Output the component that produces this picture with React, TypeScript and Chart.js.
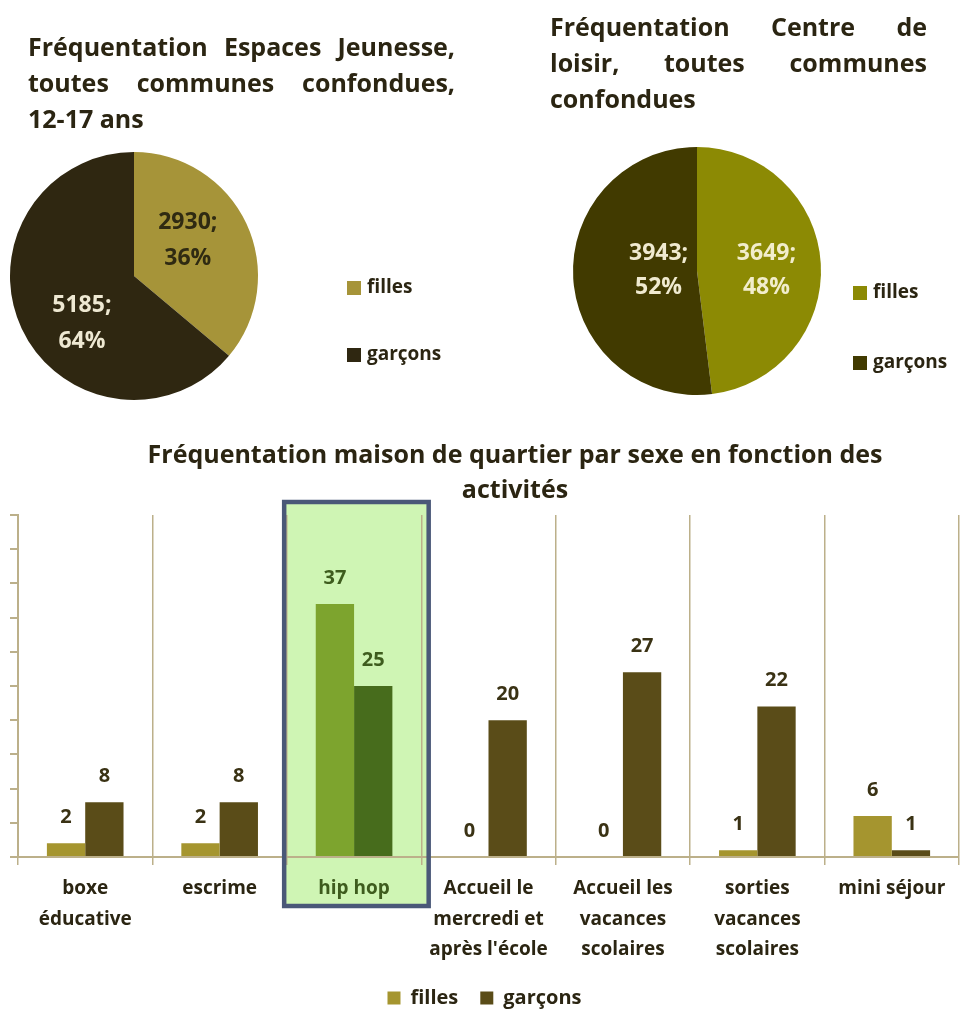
import React, { useEffect, useRef } from "react";
import { Chart, registerables } from "chart.js";

Chart.register(...registerables);

// ---------- data ----------
const pie1Title = ["Fréquentation Espaces Jeunesse,", "toutes communes confondues,", "12-17 ans"];
const pie1Labels = ["filles", "garçons"];
const pie1Values = [2930, 5185];

const pie2Title = ["Fréquentation Centre de", "loisir, toutes communes", "confondues"];
const pie2Labels = ["filles", "garçons"];
const pie2Values = [3649, 3943];

const barTitle = ["Fréquentation maison de quartier par sexe en fonction des", "activités"];
const barCategories = [
  ["boxe", "éducative"],
  ["escrime"],
  ["hip hop"],
  ["Accueil le", "mercredi et", "après l'école"],
  ["Accueil les", "vacances", "scolaires"],
  ["sorties", "vacances", "scolaires"],
  ["mini séjour"],
];
const barSeries = ["filles", "garçons"];
const fillesValues = [2, 2, 37, 0, 0, 1, 6];
const garconsValues = [8, 8, 25, 20, 27, 22, 1];
const highlightedCategory = 2;
const yMin = 0;
const yMax = 50;
const yStep = 5;

// ---------- styles ----------
const FAMILY = "'Open Sans', Lato, 'DejaVu Sans', sans-serif";
const TEXT_DARK = "#2B2512";
const PIE1_COLORS = ["#A69439", "#2F2711"];
const PIE2_COLORS = ["#8C8A04", "#413A00"];
const PIE1_LABEL_COLORS = ["#2F2A12", "#EEE8D2"];
const PIE2_LABEL_COLORS = ["#F2EDCC", "#F0EAD0"];
const BAR_F = "#A5952F";
const BAR_G = "#5A4C18";
const HL_F = "#7DA42E";
const HL_G = "#476C1C";
const HL_FILL = "#CFF5B4";
const HL_STROKE = "#4A5878";
const HL_TEXT = "#3E5C1E";
const TAN = "#BCB08A";
const VALUE_COLOR = "#3A3214";
const LEGEND_PAD = 22;

// ---------- plugins ----------
function textBlock(id: string, cfg: any) {
  return {
    id,
    afterDraw(chart: any) {
      const ctx = chart.ctx;
      ctx.save();
      ctx.font = cfg.font;
      ctx.fillStyle = cfg.color;
      ctx.textBaseline = "alphabetic";
      cfg.lines.forEach((line: string, i: number) => {
        const y = cfg.y + i * cfg.lineHeight;
        if (cfg.align === "center") {
          ctx.textAlign = "center";
          ctx.fillText(line, cfg.x, y);
          return;
        }
        ctx.textAlign = "left";
        const words = line.split(" ");
        const last = i === cfg.lines.length - 1;
        if (!cfg.justify || last || words.length < 2) {
          ctx.fillText(line, cfg.x, y);
          return;
        }
        const widths = words.map((w) => ctx.measureText(w).width);
        const gap = (cfg.width - widths.reduce((a, b) => a + b, 0)) / (words.length - 1);
        let x = cfg.x;
        words.forEach((w, k) => {
          ctx.fillText(w, x, y);
          x += widths[k] + gap;
        });
      });
      ctx.restore();
    },
  };
}

function sideLegend(id: string, cfg: any) {
  return {
    id,
    afterDraw(chart: any) {
      const ctx = chart.ctx;
      const labels = chart.data.labels as string[];
      const colors = chart.data.datasets[0].backgroundColor as string[];
      ctx.save();
      ctx.font = cfg.font;
      ctx.textBaseline = "middle";
      ctx.textAlign = "left";
      labels.forEach((lab, i) => {
        const cy = cfg.ys[i];
        ctx.fillStyle = colors[i];
        ctx.fillRect(cfg.x, cy - cfg.box / 2, cfg.box, cfg.box);
        ctx.fillStyle = cfg.color;
        ctx.fillText(lab, cfg.x + cfg.box + cfg.gap, cy);
      });
      ctx.restore();
    },
  };
}

function pieValueLabels(id: string, cfg: any) {
  return {
    id,
    afterDatasetsDraw(chart: any) {
      const meta = chart.getDatasetMeta(0);
      const data = chart.data.datasets[0].data as number[];
      const total = data.reduce((a, b) => a + b, 0);
      const ctx = chart.ctx;
      ctx.save();
      ctx.font = cfg.font;
      ctx.textAlign = "center";
      ctx.textBaseline = "middle";
      meta.data.forEach((arc: any, i: number) => {
        const p = arc.getProps(["x", "y", "startAngle", "endAngle", "outerRadius"], true);
        const mid = (p.startAngle + p.endAngle) / 2 + (cfg.place[i].da * Math.PI) / 180;
        const r = p.outerRadius * cfg.place[i].r;
        const cx = p.x + Math.cos(mid) * r;
        const cy = p.y + Math.sin(mid) * r;
        ctx.fillStyle = cfg.colors[i];
        ctx.fillText(`${data[i]};`, cx, cy - cfg.lineHeight / 2);
        ctx.fillText(`${Math.round((data[i] / total) * 100)}%`, cx, cy + cfg.lineHeight / 2);
      });
      ctx.restore();
    },
  };
}

function highlightRect(chart: any) {
  const xs = chart.scales.x;
  const ca = chart.chartArea;
  const cw = xs.width / barCategories.length;
  const c = xs.getPixelForValue(highlightedCategory);
  return { l: c - 0.52 * cw, r: c + 0.555 * cw, t: ca.top - 13, b: ca.bottom + 49 };
}

const highlightPlugin = {
  id: "highlightBox",
  beforeDraw(chart: any) {
    const ctx = chart.ctx;
    const h = highlightRect(chart);
    ctx.save();
    ctx.fillStyle = HL_FILL;
    ctx.fillRect(h.l, h.t, h.r - h.l, h.b - h.t);
    ctx.restore();
  },
  afterDraw(chart: any) {
    const ctx = chart.ctx;
    const h = highlightRect(chart);
    ctx.save();
    ctx.strokeStyle = HL_STROKE;
    ctx.lineWidth = 4.5;
    ctx.strokeRect(h.l, h.t, h.r - h.l, h.b - h.t);
    ctx.restore();
  },
};

const barValuePlugin = {
  id: "barValues",
  afterDatasetsDraw(chart: any) {
    const ctx = chart.ctx;
    ctx.save();
    ctx.font = `bold 20px ${FAMILY}`;
    ctx.textAlign = "center";
    ctx.textBaseline = "middle";
    chart.data.datasets.forEach((ds: any, di: number) => {
      const meta = chart.getDatasetMeta(di);
      meta.data.forEach((bar: any, i: number) => {
        ctx.fillStyle = i === highlightedCategory ? HL_TEXT : VALUE_COLOR;
        ctx.fillText(String(ds.data[i]), bar.x, bar.y - 26);
      });
    });
    ctx.restore();
  },
};

// ---------- components ----------
function PieChart(props: {
  left: number;
  labels: string[];
  values: number[];
  colors: string[];
  padding: any;
  title: any;
  legend: any;
  valueLabels: any;
  id: string;
}) {
  const ref = useRef<HTMLCanvasElement | null>(null);
  useEffect(() => {
    if (!ref.current) return;
    const chart = new Chart(ref.current, {
      type: "pie",
      data: {
        labels: props.labels,
        datasets: [{ data: props.values, backgroundColor: props.colors, borderWidth: 0 }],
      },
      options: {
        responsive: false,
        animation: false,
        layout: { padding: props.padding },
        plugins: { legend: { display: false }, tooltip: { enabled: false }, title: { display: false } },
      },
      plugins: [
        textBlock(props.id + "Title", props.title),
        sideLegend(props.id + "Legend", props.legend),
        pieValueLabels(props.id + "Values", props.valueLabels),
      ],
    } as any);
    return () => chart.destroy();
  }, []);
  return (
    <div style={{ position: "absolute", left: props.left, top: 0, width: 480, height: 410 }}>
      <canvas ref={ref} width={480} height={410} />
    </div>
  );
}

function BarChart() {
  const ref = useRef<HTMLCanvasElement | null>(null);
  useEffect(() => {
    if (!ref.current) return;
    const chart = new Chart(ref.current, {
      type: "bar",
      data: {
        labels: barCategories,
        datasets: [
          {
            label: barSeries[0],
            data: fillesValues,
            backgroundColor: (c: any) => (c.dataIndex === highlightedCategory ? HL_F : BAR_F),
            borderWidth: 0,
          },
          {
            label: barSeries[1],
            data: garconsValues,
            backgroundColor: (c: any) => (c.dataIndex === highlightedCategory ? HL_G : BAR_G),
            borderWidth: 0,
          },
        ],
      },
      options: {
        responsive: false,
        animation: false,
        layout: { padding: { left: 10, right: 1, top: 85, bottom: 2 } },
        datasets: { bar: { categoryPercentage: 0.57, barPercentage: 1 } },
        scales: {
          x: {
            grid: { color: TAN, lineWidth: 1.5, tickLength: 8, offset: true },
            border: { color: TAN, width: 2 },
            ticks: {
              color: (c: any) => (c.index === highlightedCategory ? HL_TEXT : TEXT_DARK),
              font: { family: FAMILY, size: 19, weight: "bold", lineHeight: 1.62 },
              padding: 8,
              maxRotation: 0,
              minRotation: 0,
              autoSkip: false,
            },
            afterFit(s: any) {
              s.height = 121 - (LEGEND_PAD - 10);
            },
          },
          y: {
            min: yMin,
            max: yMax,
            grid: { drawOnChartArea: false, color: TAN, tickLength: 8, lineWidth: 2 },
            border: { color: TAN, width: 2 },
            ticks: { display: false, stepSize: yStep },
          },
        },
        plugins: {
          tooltip: { enabled: false },
          title: { display: false },
          legend: {
            position: "bottom",
            labels: {
              boxWidth: 13,
              boxHeight: 13,
              padding: LEGEND_PAD,
              color: TEXT_DARK,
              font: { family: FAMILY, size: 20, weight: "bold" },
            },
          },
        },
      },
      plugins: [
        highlightPlugin,
        barValuePlugin,
        textBlock("barTitle", {
          lines: barTitle,
          x: 515,
          y: 33,
          lineHeight: 35,
          align: "center",
          font: `bold 25px ${FAMILY}`,
          color: TEXT_DARK,
        }),
      ],
    } as any);
    return () => chart.destroy();
  }, []);
  return (
    <div style={{ position: "absolute", left: 0, top: 430, width: 960, height: 590 }}>
      <canvas ref={ref} width={960} height={590} />
    </div>
  );
}

export default function App() {
  return (
    <div
      style={{
        position: "absolute",
        left: 0,
        top: 0,
        width: 960,
        height: 1010,
        overflow: "hidden",
        background: "#ffffff",
      }}
    >
      <PieChart
        id="pie1"
        left={0}
        labels={pie1Labels}
        values={pie1Values}
        colors={PIE1_COLORS}
        padding={{ left: 10, right: 222, top: 152, bottom: 10 }}
        title={{
          lines: pie1Title,
          x: 28,
          y: 56,
          width: 427,
          lineHeight: 36,
          justify: true,
          font: `bold 25px ${FAMILY}`,
          color: TEXT_DARK,
        }}
        legend={{ x: 347, ys: [288, 355], box: 14, gap: 6, font: `bold 19px ${FAMILY}`, color: TEXT_DARK }}
        valueLabels={{
          font: `bold 23px ${FAMILY}`,
          lineHeight: 36,
          colors: PIE1_LABEL_COLORS,
          place: [
            { r: 0.52, da: -8.5 },
            { r: 0.57, da: -17.5 },
          ],
        }}
      />
      <PieChart
        id="pie2"
        left={480}
        labels={pie2Labels}
        values={pie2Values}
        colors={PIE2_COLORS}
        padding={{ left: 92, right: 138, top: 147, bottom: 15 }}
        title={{
          lines: pie2Title,
          x: 70,
          y: 36,
          width: 377,
          lineHeight: 36,
          justify: true,
          font: `bold 25px ${FAMILY}`,
          color: TEXT_DARK,
        }}
        legend={{ x: 373, ys: [293, 363], box: 14, gap: 6, font: `bold 19px ${FAMILY}`, color: TEXT_DARK }}
        valueLabels={{
          font: `bold 23px ${FAMILY}`,
          lineHeight: 34,
          colors: PIE2_LABEL_COLORS,
          place: [
            { r: 0.56, da: 2.8 },
            { r: 0.31, da: 5 },
          ],
        }}
      />
      <BarChart />
    </div>
  );
}
